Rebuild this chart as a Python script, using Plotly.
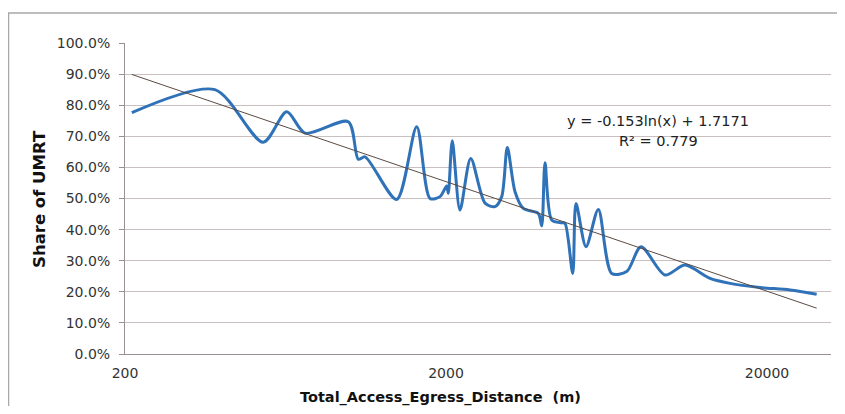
import numpy as np
import plotly.graph_objects as go

# Distance (m) and share of UMRT (fraction)
distance = [210, 381, 539, 638, 728, 992, 1066, 1119, 1404, 1621, 1783, 1916, 2010, 2033,
            2092, 2211, 2388, 2646, 2842, 2983, 3105, 3281, 3482, 3878, 3974, 4069, 4269,
            4587, 4697, 4964, 5082, 5460, 5964, 6564, 7311, 8101, 9620, 11105, 13290,
            15340, 19040, 23590, 28560]
share = [0.776, 0.850, 0.681, 0.779, 0.710, 0.747, 0.626, 0.634, 0.497, 0.731, 0.500,
         0.506, 0.540, 0.517, 0.686, 0.463, 0.629, 0.485, 0.474, 0.506, 0.664, 0.522,
         0.468, 0.452, 0.412, 0.615, 0.431, 0.422, 0.420, 0.259, 0.484, 0.345, 0.465,
         0.259, 0.265, 0.345, 0.254, 0.286, 0.243, 0.227, 0.214, 0.206, 0.192]

trend_a = -0.153
trend_b = 1.7171
trend_label = "y = -0.153ln(x) + 1.7171"
r2_label = "R² = 0.779"
x_title = "Total_Access_Egress_Distance  (m)"
y_title = "Share of UMRT"

x_ticks = [200, 2000, 20000]
y_ticks = [i / 10 for i in range(11)]
y_tick_text = [f"{v*100:.1f}%" for v in y_ticks]

tx = np.array([min(distance), max(distance)], dtype=float)
ty = trend_a * np.log(tx) + trend_b

fig = go.Figure()
fig.add_trace(go.Scatter(x=distance, y=share, mode="lines",
                         line=dict(color="#2f72b8", width=3, shape="spline", smoothing=0.8),
                         showlegend=False, hoverinfo="skip"))
fig.add_trace(go.Scatter(x=tx, y=ty, mode="lines",
                         line=dict(color="#5a4a42", width=1),
                         showlegend=False, hoverinfo="skip"))

# page-coordinate layout (page body has an 8px margin)
OFF = 8
L, R, T, B = 125, 831, 43, 354   # plot area in page pixels
W, H = 845 - 2 * OFF, 414 - 2 * OFF


def px(xp):
    return (xp - L) / (R - L)


def py(yp):
    return (B - yp) / (B - T)


fig.add_shape(type="rect", xref="paper", yref="paper",
              x0=px(8.5), x1=px(860), y0=py(430), y1=py(13),
              line=dict(color="#a8a8a8", width=1.5), fillcolor="rgba(0,0,0,0)", layer="below")

FONT = "DejaVu Sans, Liberation Sans, Arial, sans-serif"
font_tick = dict(family=FONT, size=14, color="#333333")
font_eq = dict(family=FONT, size=14.5, color="#222222")

fig.add_annotation(xref="paper", yref="paper", x=px(658), y=py(121), text=trend_label,
                   showarrow=False, font=font_eq, xanchor="center", yanchor="middle")
fig.add_annotation(xref="paper", yref="paper", x=px(658), y=py(141), text=r2_label,
                   showarrow=False, font=font_eq, xanchor="center", yanchor="middle")
fig.add_annotation(xref="paper", yref="paper", x=px(440), y=py(397.5), text=f"<b>{x_title}</b>",
                   showarrow=False, font=dict(family=FONT, size=14.5, color="#111111"),
                   xanchor="center", yanchor="middle", borderpad=0)
fig.add_annotation(xref="paper", yref="paper", x=px(39), y=py(199), text=f"<b>{y_title}</b>",
                   showarrow=False, font=dict(family=FONT, size=16.5, color="#111111"),
                   textangle=-90, xanchor="center", yanchor="middle")

x0 = np.log10(200)
x1 = x0 + (R - L) / 321.0

fig.update_layout(
    width=W, height=H,
    margin=dict(l=L - OFF, r=W - (R - OFF), t=T - OFF, b=H - (B - OFF), autoexpand=False),
    paper_bgcolor="white", plot_bgcolor="white",
    xaxis=dict(type="log", range=[x0, x1], tickvals=x_ticks,
               ticktext=[str(v) for v in x_ticks], showgrid=False,
               showline=True, linecolor="#9a9090", linewidth=1,
               ticks="", tickfont=font_tick, zeroline=False, ticklabelstandoff=6),
    yaxis=dict(range=[0, 1.0], tickvals=y_ticks, ticktext=y_tick_text,
               showgrid=True, gridcolor="#c9bfbf", gridwidth=1,
               showline=True, linecolor="#9a9090", linewidth=1,
               ticks="outside", ticklen=5, tickcolor="#9a9090",
               tickfont=font_tick, zeroline=False, ticklabelstandoff=6),
)

fig.write_html("out.html")
